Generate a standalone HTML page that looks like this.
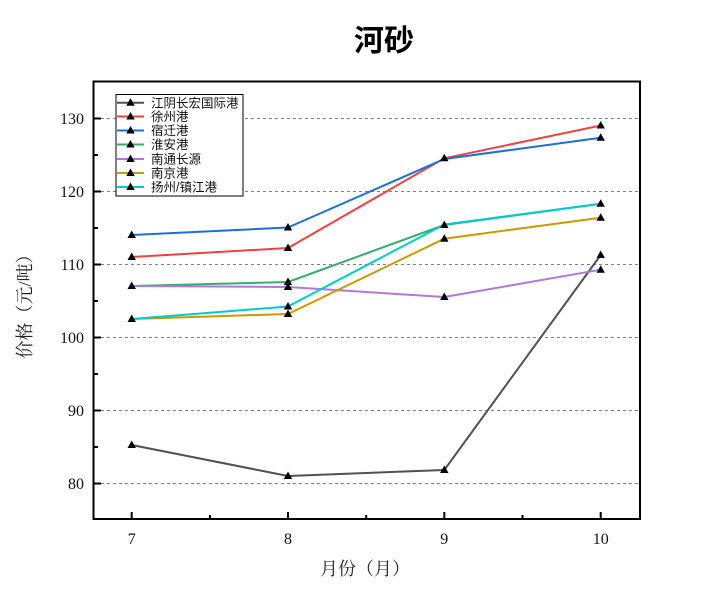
<!DOCTYPE html>
<html>
<head>
<meta charset="utf-8">
<style>
html,body{margin:0;padding:0;background:#fff;}
svg{display:block;}
</style>
</head>
<body>
<svg width="715" height="602" viewBox="0 0 715 602" xmlns="http://www.w3.org/2000/svg">
<rect x="0" y="0" width="715" height="602" fill="#fff"/>
<!-- title -->
<text x="384" y="51" text-anchor="middle" font-family="'Liberation Sans','Noto Sans CJK SC',sans-serif" font-weight="bold" font-size="30" fill="#000">河砂</text>

<!-- gridlines -->
<g stroke="#808080" stroke-width="1" stroke-dasharray="3,3">
<line x1="95" y1="118.5" x2="639" y2="118.5"/>
<line x1="95" y1="191.5" x2="639" y2="191.5"/>
<line x1="95" y1="264.5" x2="639" y2="264.5"/>
<line x1="95" y1="337.5" x2="639" y2="337.5"/>
<line x1="95" y1="410.5" x2="639" y2="410.5"/>
<line x1="95" y1="483.5" x2="639" y2="483.5"/>
</g>

<!-- series -->
<g fill="none" stroke-width="2" stroke-linejoin="round">
<polyline stroke="#515151" points="131.7,445 288,476 444.3,470 600.7,255"/>
<polyline stroke="#F14040" points="131.7,257 288,248 444.3,158.3 600.7,125.5"/>
<polyline stroke="#1A6FDF" points="131.7,235 288,227.5 444.3,159 600.7,137.7"/>
<polyline stroke="#37AD6B" points="131.7,286 288,282 444.3,225 600.7,203.7"/>
<polyline stroke="#B177DE" points="131.7,286 288,287 444.3,297 600.7,269.7"/>
<polyline stroke="#CC9900" points="131.7,319 288,314 444.3,238.7 600.7,217.7"/>
<polyline stroke="#00CBCC" points="131.7,319 288,306.5 444.3,224.5 600.7,203.7"/>
</g>

<!-- markers -->
<g fill="#000">
<path id="m" d="M0,-4.5 L4.2,3 L-4.2,3 Z" transform="translate(131.7,445)"/>
<path d="M0,-4.5 L4.2,3 L-4.2,3 Z" transform="translate(288,476)"/>
<path d="M0,-4.5 L4.2,3 L-4.2,3 Z" transform="translate(444.3,470)"/>
<path d="M0,-4.5 L4.2,3 L-4.2,3 Z" transform="translate(600.7,255)"/>

<path d="M0,-4.5 L4.2,3 L-4.2,3 Z" transform="translate(131.7,257)"/>
<path d="M0,-4.5 L4.2,3 L-4.2,3 Z" transform="translate(288,248)"/>
<path d="M0,-4.5 L4.2,3 L-4.2,3 Z" transform="translate(444.3,158.3)"/>
<path d="M0,-4.5 L4.2,3 L-4.2,3 Z" transform="translate(600.7,125.5)"/>

<path d="M0,-4.5 L4.2,3 L-4.2,3 Z" transform="translate(131.7,235)"/>
<path d="M0,-4.5 L4.2,3 L-4.2,3 Z" transform="translate(288,227.5)"/>
<path d="M0,-4.5 L4.2,3 L-4.2,3 Z" transform="translate(600.7,137.7)"/>

<path d="M0,-4.5 L4.2,3 L-4.2,3 Z" transform="translate(131.7,286)"/>
<path d="M0,-4.5 L4.2,3 L-4.2,3 Z" transform="translate(288,282)"/>
<path d="M0,-4.5 L4.2,3 L-4.2,3 Z" transform="translate(444.3,225)"/>

<path d="M0,-4.5 L4.2,3 L-4.2,3 Z" transform="translate(288,287)"/>
<path d="M0,-4.5 L4.2,3 L-4.2,3 Z" transform="translate(444.3,297)"/>
<path d="M0,-4.5 L4.2,3 L-4.2,3 Z" transform="translate(600.7,269.7)"/>

<path d="M0,-4.5 L4.2,3 L-4.2,3 Z" transform="translate(131.7,319)"/>
<path d="M0,-4.5 L4.2,3 L-4.2,3 Z" transform="translate(288,314)"/>
<path d="M0,-4.5 L4.2,3 L-4.2,3 Z" transform="translate(444.3,238.7)"/>
<path d="M0,-4.5 L4.2,3 L-4.2,3 Z" transform="translate(600.7,217.7)"/>

<path d="M0,-4.5 L4.2,3 L-4.2,3 Z" transform="translate(288,306.5)"/>
<path d="M0,-4.5 L4.2,3 L-4.2,3 Z" transform="translate(600.7,203.7)"/>
</g>

<!-- axes frame -->
<rect x="93.5" y="81.5" width="546.5" height="437.5" fill="none" stroke="#000" stroke-width="2"/>

<!-- y ticks -->
<g stroke="#000" stroke-width="2">
<line x1="94" y1="118.5" x2="101" y2="118.5"/>
<line x1="94" y1="191.5" x2="101" y2="191.5"/>
<line x1="94" y1="264.5" x2="101" y2="264.5"/>
<line x1="94" y1="337.5" x2="101" y2="337.5"/>
<line x1="94" y1="410.5" x2="101" y2="410.5"/>
<line x1="94" y1="483.5" x2="101" y2="483.5"/>
<line x1="94" y1="155" x2="98" y2="155"/>
<line x1="94" y1="228" x2="98" y2="228"/>
<line x1="94" y1="301" x2="98" y2="301"/>
<line x1="94" y1="374" x2="98" y2="374"/>
<line x1="94" y1="447" x2="98" y2="447"/>
<!-- x ticks -->
<line x1="131.7" y1="519" x2="131.7" y2="512"/>
<line x1="288" y1="519" x2="288" y2="512"/>
<line x1="444.3" y1="519" x2="444.3" y2="512"/>
<line x1="600.7" y1="519" x2="600.7" y2="512"/>
<line x1="209.9" y1="519" x2="209.9" y2="515"/>
<line x1="366.2" y1="519" x2="366.2" y2="515"/>
<line x1="522.5" y1="519" x2="522.5" y2="515"/>
</g>

<!-- tick labels -->
<g font-family="'Liberation Serif',serif" font-size="16" fill="#111">
<g text-anchor="end">
<text x="84" y="124">130</text>
<text x="84" y="197">120</text>
<text x="84" y="270">110</text>
<text x="84" y="343">100</text>
<text x="84" y="416">90</text>
<text x="84" y="489">80</text>
</g>
<g text-anchor="middle">
<text x="131.7" y="544">7</text>
<text x="288" y="544">8</text>
<text x="444.3" y="544">9</text>
<text x="600.7" y="544">10</text>
</g>
</g>

<!-- axis titles -->
<text x="365" y="575" text-anchor="middle" font-family="'Liberation Serif','Noto Serif CJK SC',serif" font-size="18" fill="#222">月份（月）</text>
<text transform="translate(31,302) rotate(-90)" text-anchor="middle" font-family="'Liberation Serif','Noto Serif CJK SC',serif" font-size="18" fill="#222">价格（元/吨）</text>

<!-- legend -->
<rect x="116" y="94.5" width="127" height="101.5" fill="#fff" stroke="#000" stroke-width="1"/>
<g stroke-width="2">
<line x1="117" y1="102.7" x2="144" y2="102.7" stroke="#515151"/>
<line x1="117" y1="116.5" x2="144" y2="116.5" stroke="#F14040"/>
<line x1="117" y1="130.5" x2="144" y2="130.5" stroke="#1A6FDF"/>
<line x1="117" y1="144.5" x2="144" y2="144.5" stroke="#37AD6B"/>
<line x1="117" y1="159" x2="144" y2="159" stroke="#B177DE"/>
<line x1="117" y1="173" x2="144" y2="173" stroke="#CC9900"/>
<line x1="117" y1="187" x2="144" y2="187" stroke="#00CBCC"/>
</g>
<g fill="#000">
<path d="M0,-4.5 L4.2,3 L-4.2,3 Z" transform="translate(130.5,102.7)"/>
<path d="M0,-4.5 L4.2,3 L-4.2,3 Z" transform="translate(130.5,116.5)"/>
<path d="M0,-4.5 L4.2,3 L-4.2,3 Z" transform="translate(130.5,130.5)"/>
<path d="M0,-4.5 L4.2,3 L-4.2,3 Z" transform="translate(130.5,144.5)"/>
<path d="M0,-4.5 L4.2,3 L-4.2,3 Z" transform="translate(130.5,159)"/>
<path d="M0,-4.5 L4.2,3 L-4.2,3 Z" transform="translate(130.5,173)"/>
<path d="M0,-4.5 L4.2,3 L-4.2,3 Z" transform="translate(130.5,187)"/>
</g>
<g font-family="'Liberation Sans','Noto Sans CJK SC',sans-serif" font-size="12.5" fill="#111">
<text x="151" y="107.3">江阴长宏国际港</text>
<text x="151" y="121">徐州港</text>
<text x="151" y="135">宿迁港</text>
<text x="151" y="149">淮安港</text>
<text x="151" y="163.5">南通长源</text>
<text x="151" y="177.5">南京港</text>
<text x="151" y="191.5">扬州/镇江港</text>
</g>
</svg>
</body>
</html>
